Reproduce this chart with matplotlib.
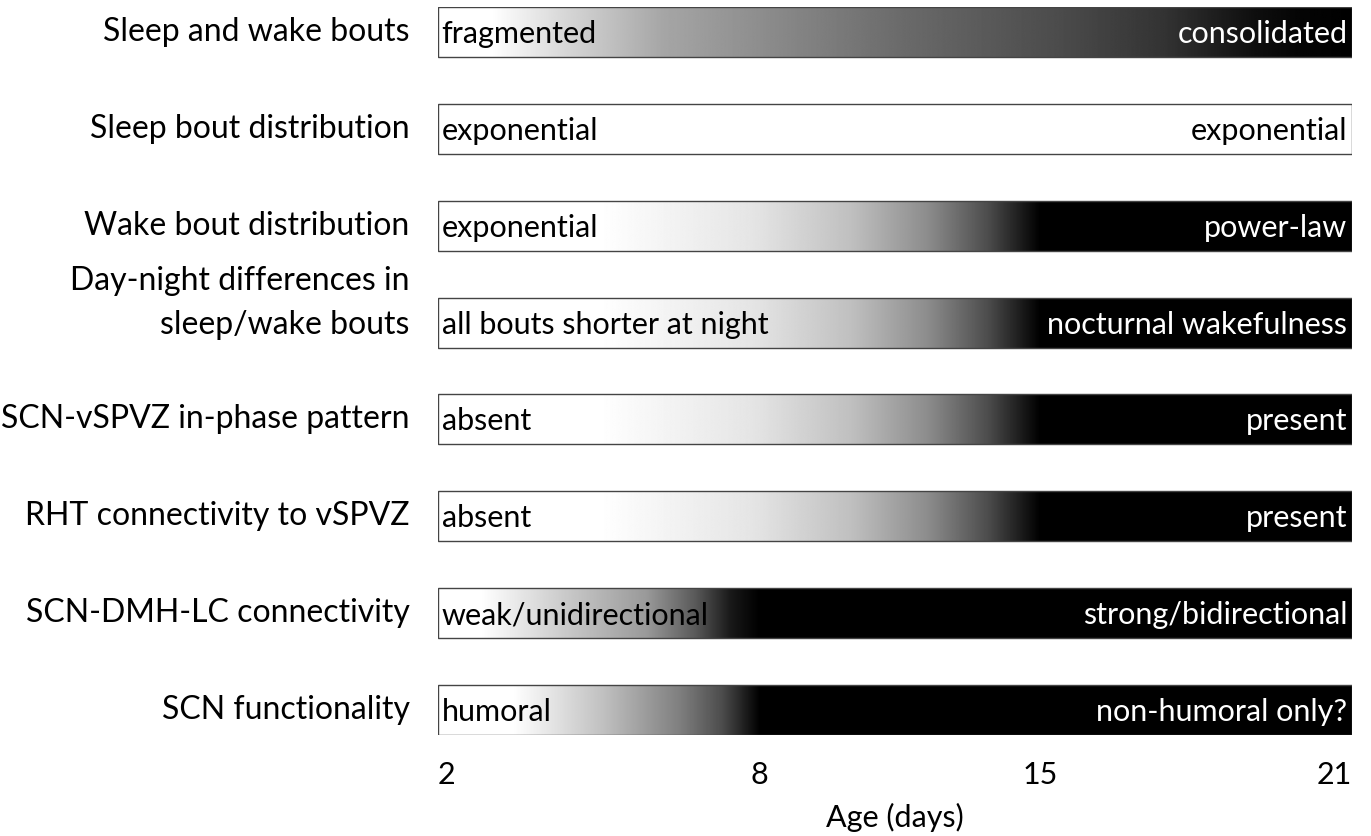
import numpy as np
import matplotlib
matplotlib.use("Agg")
import matplotlib.pyplot as plt

plt.rcParams['font.family'] = ['Lato', 'DejaVu Sans']

# row labels (top to bottom)
features = [
    "Sleep and wake bouts",
    "Sleep bout distribution",
    "Wake bout distribution",
    "Day-night differences in\nsleep/wake bouts",
    "SCN-vSPVZ in-phase pattern",
    "RHT connectivity to vSPVZ",
    "SCN-DMH-LC connectivity",
    "SCN functionality",
]
early_state = [
    "fragmented", "exponential", "exponential", "all bouts shorter at night",
    "absent", "absent", "weak/unidirectional", "humoral",
]
late_state = [
    "consolidated", "exponential", "power-law", "nocturnal wakefulness",
    "present", "present", "strong/bidirectional", "non-humoral only?",
]

# gradient stops per row: age (days) and grey level (1 = white, 0 = black)
stop_days = [
    [2, 3.0, 4.3, 6.2, 8.1, 11.5, 15.3, 17.4, 19.1, 20.0, 21],
    [2, 21],
    [2, 5.0, 7.8, 10.3, 12.2, 13.7, 15.0, 21],
    [2, 5.0, 7.8, 10.3, 12.2, 13.7, 15.0, 21],
    [2, 5.0, 7.8, 10.3, 12.2, 13.7, 15.0, 21],
    [2, 5.0, 7.8, 10.3, 12.2, 13.7, 15.0, 21],
    [2, 2.8, 4.3, 5.9, 6.8, 7.45, 8.0, 21],
    [2, 3.4, 5.1, 6.5, 7.3, 8.0, 21],
]
stop_grey = [
    [1, 1, 0.85, 0.65, 0.55, 0.42, 0.3, 0.2, 0.06, 0.02, 0.0],
    [1, 1],
    [1, 1, 0.9, 0.75, 0.55, 0.3, 0.0, 0.0],
    [1, 1, 0.9, 0.75, 0.55, 0.3, 0.0, 0.0],
    [1, 1, 0.9, 0.75, 0.55, 0.3, 0.0, 0.0],
    [1, 1, 0.9, 0.75, 0.55, 0.3, 0.0, 0.0],
    [1, 1, 0.8, 0.6, 0.35, 0.1, 0.0, 0.0],
    [1, 1, 0.75, 0.5, 0.3, 0.0, 0.0],
]

tick_days = [2, 8, 15, 21]
tick_labels = ["2", "8", "15", "21"]
# the original axis is not to scale: where each tick sits along the bar
tick_pos = [0.0, 0.352, 0.659, 1.0]

fig = plt.figure(figsize=(13.71, 8.36), dpi=100)
ax = fig.add_axes([438 / 1371, 1 - 735 / 836, 914 / 1371, 728 / 836])

h = 0.516
pos = np.linspace(0, 1, 1200)
days = np.interp(pos, tick_pos, tick_days)
for i in range(len(features)):
    grey = np.interp(days, stop_days[i], stop_grey[i])
    ax.imshow(grey[np.newaxis, :], cmap="gray", vmin=0, vmax=1, aspect="auto",
              extent=(0, 1, i + h / 2, i - h / 2), interpolation="bilinear")
    ax.add_patch(plt.Rectangle((0, i - h / 2), 1, h, fill=False,
                               edgecolor="#444444", lw=1.0))
    nlines = features[i].count("\n")
    ax.text(-0.031, i - 0.2 * nlines, features[i], ha="right", va="center",
            fontsize=23, linespacing=1.6)
    ax.text(0.004, i + 0.02, early_state[i], ha="left", va="center", fontsize=22,
            color="black" if grey[0] > 0.5 else "white")
    ax.text(0.995, i + 0.02, late_state[i], ha="right", va="center", fontsize=22,
            color="white" if grey[-1] < 0.5 else "black")

ax.set_xlim(0, 1)
ax.set_ylim(len(features) - 1 + h / 2, -h / 2)
for s in ax.spines.values():
    s.set_visible(False)
ax.set_yticks([])
ax.set_xticks(tick_pos)
ax.set_xticklabels(tick_labels, fontsize=22)
ax.tick_params(axis="x", length=0, pad=19)
labels = ax.get_xticklabels()
labels[0].set_ha("left")
labels[-1].set_ha("right")
ax.set_xlabel("Age (days)", fontsize=22, labelpad=10)

fig.savefig("out.png", dpi=100, facecolor="white")
